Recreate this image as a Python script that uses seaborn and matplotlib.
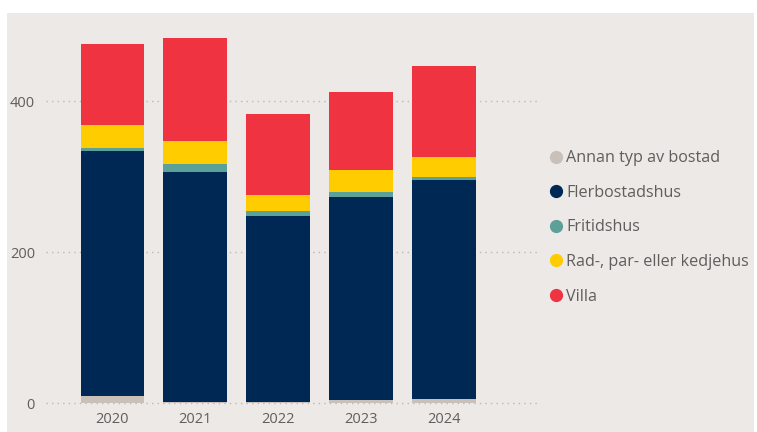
import matplotlib
matplotlib.use("Agg")
import matplotlib.pyplot as plt
import seaborn as sns
import pandas as pd
import numpy as np
from matplotlib.patches import Rectangle
from matplotlib.lines import Line2D

years = ["2020", "2021", "2022", "2023", "2024"]
series_names = ["Annan typ av bostad", "Flerbostadshus", "Fritidshus",
                "Rad-, par- eller kedjehus", "Villa"]
annan = [9, 1, 1, 4, 5]
flerbostadshus = [325, 305, 247, 269, 291]
fritidshus = [4, 10, 6, 6, 3]
radhus = [30, 31, 22, 29, 27]
villa = [107, 137, 107, 104, 121]
colors = ["#C9C1B9", "#002855", "#5BA199", "#FFCC00", "#EF3340"]

series = [annan, flerbostadshus, fritidshus, radhus, villa]

sns.set_theme(style="white")
plt.rcParams['font.family'] = ['Open Sans', 'DejaVu Sans']

fig = plt.figure(figsize=(7.57, 4.32), dpi=100)
fig.patch.set_facecolor("white")
bg = Rectangle((7 / 757, 0), (754 - 7) / 757, (432 - 13) / 432,
               transform=fig.transFigure, facecolor="#ECE9E6", edgecolor="none", zorder=-10)
fig.patches.append(bg)

ax = fig.add_axes([46 / 757, (432 - 405.3) / 432, 494 / 757, (405.3 - 25.5) / 432])
ax.set_facecolor("none")
ax.set_zorder(1)

cum = np.cumsum(np.array(series), axis=0)
# draw from top down so lower segments overlay
for i in range(len(series) - 1, -1, -1):
    df = pd.DataFrame({"year": years, "value": cum[i]})
    sns.barplot(data=df, x="year", y="value", color=colors[i], ax=ax,
                width=0.77, saturation=1, linewidth=0, zorder=3)

ax.set_xlim(-0.802, 5.157)
ax.set_ylim(-3, 500)
ax.set_yticks([0, 200, 400])
ax.set_yticklabels(["0", "200", "400"])
ax.yaxis.grid(True, linestyle=(0, (1, 3)), color="#BDB8B3", linewidth=1, zorder=1)
ax.set_axisbelow(True)
ax.xaxis.grid(False)
for s in ax.spines.values():
    s.set_visible(False)
ax.set_xlabel("")
ax.set_ylabel("")
ax.tick_params(axis="both", length=0, labelsize=10.5, colors="#605E5C")
ax.tick_params(axis="y", pad=8)
ax.tick_params(axis="x", pad=5)

handles = [Line2D([0], [0], marker="o", linestyle="none", markersize=8.5,
                  markerfacecolor=c, markeredgecolor=c) for c in colors]
fig.legend(handles, series_names, loc="upper left",
           bbox_to_anchor=(545 / 757, 1 - 144 / 432), frameon=False,
           fontsize=11.6, labelcolor="#605E5C", handlelength=0.6,
           handletextpad=0.3, labelspacing=1.15, borderaxespad=0)

fig.savefig("out.png", dpi=100, facecolor="white")
